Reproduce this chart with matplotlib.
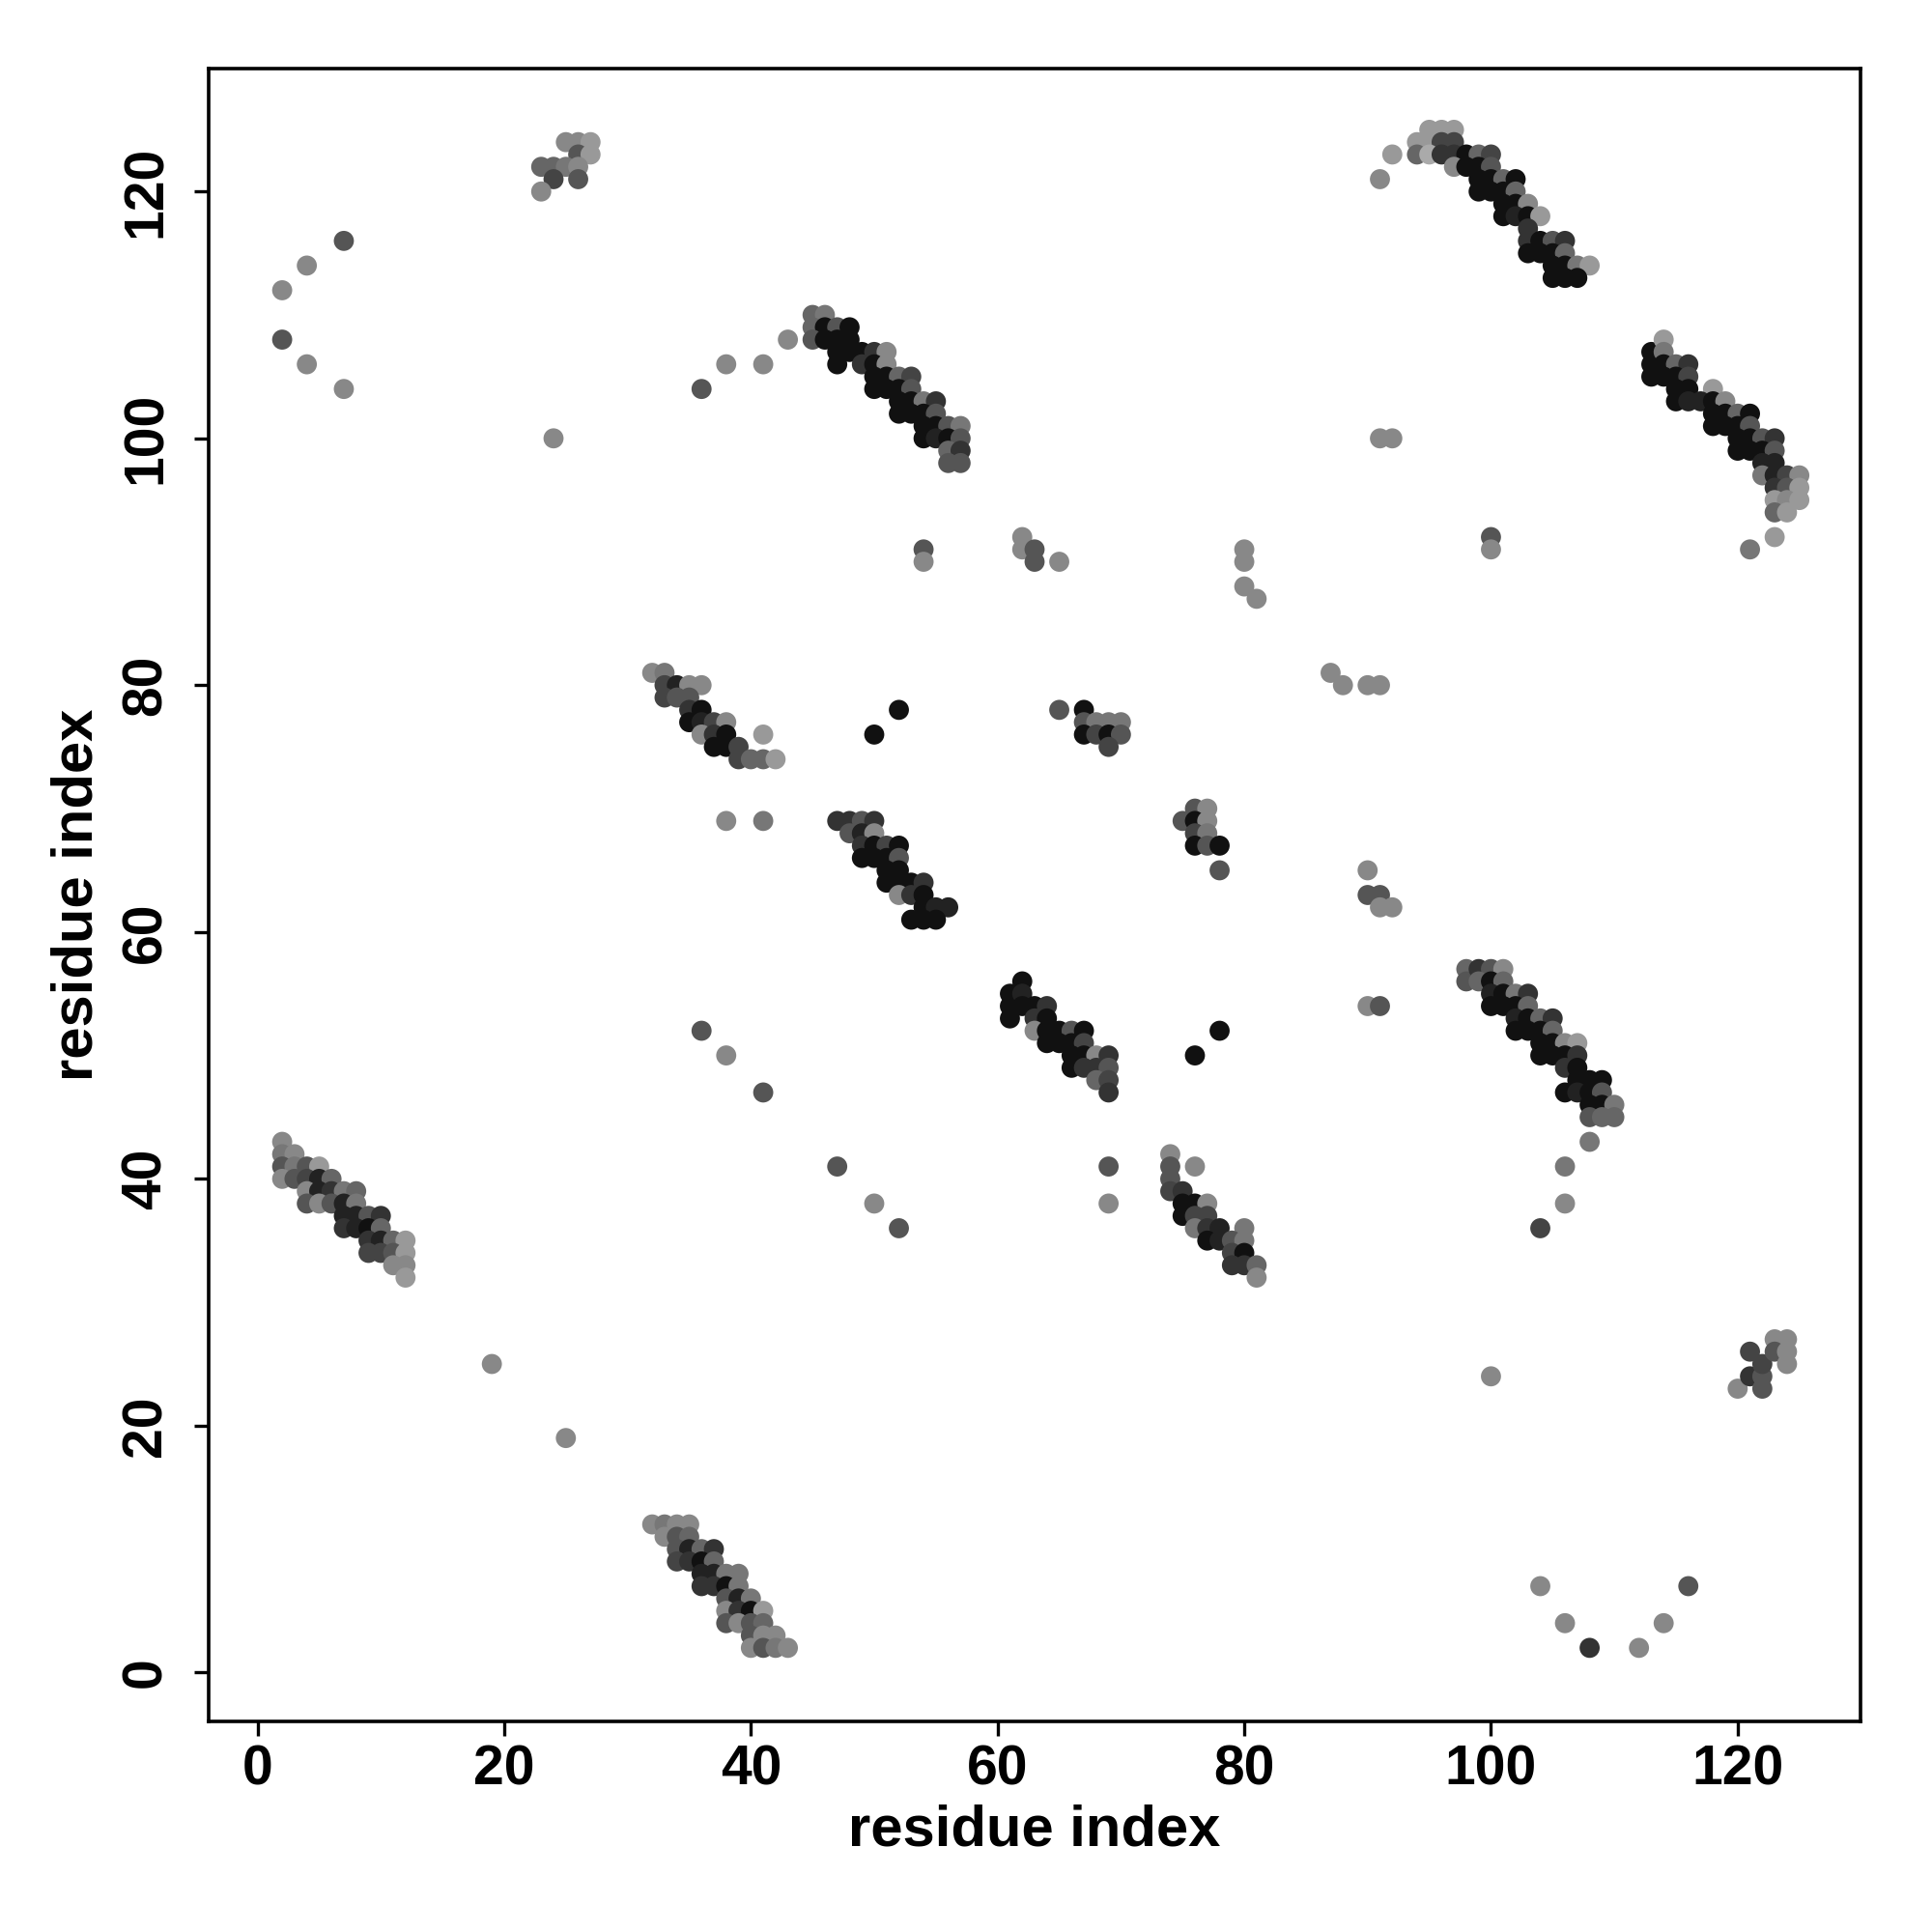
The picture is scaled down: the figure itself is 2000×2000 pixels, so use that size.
import matplotlib
matplotlib.use("Agg")
import matplotlib.pyplot as plt
import numpy as np

# Contacts: (residue i, residue j, grey level 1=darkest .. 10=lightest)
band_a = [(43,108,8),(45,110,6),(46,110,7),
          (45,109,6),(46,109,1),(47,109,5),(48,109,1),
          (45,108,5),(46,108,1),(47,108,1),(48,108,1),
          (47,107,1),(48,107,1),(49,107,1),(50,107,3),(51,107,8),
          (47,106,1),(49,106,3),(50,106,1),(51,106,8),
          (50,105,1),(51,105,1),(52,105,6),(53,105,4),
          (50,104,1),(51,104,1),(52,104,1),(53,104,5),
          (52,103,1),(53,103,1),(54,103,7),(55,103,3),
          (52,102,1),(53,102,1),(54,102,1),(55,102,5),
          (54,101,1),(55,101,1),(56,101,5),(57,101,7),
          (54,100,1),(55,100,2),(56,100,1),(57,100,5),
          (56,99,6),(57,99,3),(56,98,5),(57,98,5)]
band_b = [(91,121,8),(92,123,9),
          (95,125,9),(96,125,9),(97,125,9),
          (94,124,9),(95,124,9),(96,124,4),(97,124,4),
          (94,123,6),(95,123,10),(96,123,3),(97,123,3),(98,123,1),(99,123,6),(100,123,4),
          (97,122,8),(98,122,1),(99,122,1),(100,122,5),
          (99,121,1),(100,121,1),(101,121,6),(102,121,1),
          (99,120,1),(100,120,1),(101,120,1),(102,120,6),
          (101,119,1),(102,119,1),(103,119,8),
          (101,118,1),(102,118,2),(103,118,1),(104,118,9),
          (103,117,3),
          (103,116,3),(104,116,1),(105,116,5),(106,116,3),
          (103,115,1),(104,115,1),(105,115,1),(106,115,6),
          (105,114,1),(106,114,1),(107,114,7),(108,114,9),
          (105,113,1),(106,113,1),(107,113,1)]
band_c = [(113,107,1),(113,106,1),(113,105,1),
          (114,108,9),(114,107,7),
          (114,106,1),(115,106,6),(116,106,3),
          (114,105,1),(115,105,1),(116,105,4),
          (115,104,1),(116,104,1),(118,104,9),
          (115,103,1),(116,103,2),(117,103,2),(118,103,1),(119,103,8),
          (118,102,1),(119,102,1),(120,102,6),(121,102,1),
          (118,101,1),(119,101,1),(120,101,1),(121,101,5),
          (120,100,1),(121,100,1),(122,100,5),(123,100,3),
          (120,99,1),(121,99,1),(122,99,1),(123,99,5),
          (122,98,2),(123,98,2),
          (122,97,7),(123,97,2),(124,97,4),(125,97,8),
          (123,96,3),(124,96,5),(125,96,9),
          (123,95,9),(124,95,8),(125,95,9),
          (123,94,6),(124,94,9),
          (123,92,9),(121,91,7)]
band_d = [(32,81,8),(33,81,7),
          (33,80,4),(34,80,2),(35,80,8),(36,80,8),
          (33,79,4),(34,79,5),(35,79,5),
          (35,78,3),(36,78,1),
          (35,77,1),(36,77,2),(37,77,4),(38,77,8),
          (36,76,8),(37,76,3),(38,76,1),(41,76,9),
          (37,75,1),(38,75,1),(39,75,4),
          (39,74,4),(40,74,6),(41,74,6),(42,74,9)]
band_e = [(47,69,3),(48,69,3),(49,69,5),(50,69,3),
          (48,68,5),(49,68,2),(50,68,8),
          (49,67,3),(50,67,1),(51,67,4),(52,67,1),
          (49,66,1),(50,66,1),(51,66,1),(52,66,5),
          (51,65,1),(52,65,1),
          (51,64,1),(52,64,1),(53,64,1),(54,64,3),
          (52,63,8),(53,63,3),(54,63,1),
          (54,62,1),(55,62,2),(56,62,2),
          (53,61,1),(54,61,1),(55,61,1)]
band_f = [(65,78,5),(67,78,1),(67,77,5),(68,77,7),(69,77,7),(70,77,7),
          (67,76,1),(68,76,4),(69,76,1),(70,76,5),(69,75,4)]
band_g = [(76,70,5),(77,70,8),(75,69,5),(76,69,1),(77,69,8),(76,68,4),
          (77,68,7),(76,67,1),(77,67,5),(78,67,1),(78,65,5)]
band_h = [(98,57,6),(98,56,5),
          (99,57,3),(100,57,5),(101,57,8),
          (99,56,6),(100,56,1),(101,56,6),
          (100,55,2),(101,55,1),(102,55,7),(103,55,3),
          (100,54,1),(101,54,1),(102,54,1),(103,54,6),
          (102,53,2),(103,53,1),(104,53,6),(105,53,3),
          (102,52,1),(103,52,1),(104,52,1),(105,52,6),
          (104,51,1),(105,51,1),(106,51,8),(107,51,9),
          (104,50,1),(105,50,1),(106,50,1),(107,50,3),
          (106,49,3),(107,49,1),
          (107,48,1),(108,48,1),(109,48,1),
          (106,47,1),(107,47,2),(108,47,1),(109,47,5),
          (108,46,1),(109,46,1),(110,46,7),
          (108,45,5),(109,45,6),(110,45,6),
          (108,43,7),(106,41,7),(106,38,8),(104,36,4)]
band_i = [(61,55,1),(61,54,1),(61,53,1),
          (62,56,1),(62,55,2),(62,54,1),
          (63,54,1),(64,54,3),
          (63,53,3),(64,53,1),
          (63,52,8),(64,52,1),(65,52,1),(66,52,5),(67,52,1),
          (64,51,1),(65,51,1),(66,51,1),(67,51,4),
          (66,50,1),(67,50,1),(68,50,8),(69,50,3),
          (66,49,1),(67,49,3),(68,49,3),(69,49,5),
          (68,48,6),(69,48,4),(69,47,3)]
band_j = [(2,43,8),(2,42,7),(3,42,8),
          (2,41,5),(3,41,7),(4,41,5),(5,41,9),
          (2,40,8),(3,40,5),(4,40,4),(5,40,2),(6,40,6),
          (4,39,8),(5,39,2),(6,39,3),(7,39,7),(8,39,6),
          (4,38,5),(5,38,8),(6,38,5),(7,38,2),(8,38,7),
          (7,37,2),(8,37,2),(9,37,5),(10,37,3),
          (7,36,3),(8,36,2),(9,36,1),(10,36,6),
          (9,35,3),(10,35,2),(11,35,6),(12,35,9),
          (9,34,4),(10,34,4),(11,34,5),(12,34,9),
          (11,33,8),(12,33,8),(12,32,9)]
band_k = [(74,42,8),(74,41,5),(74,40,5),(74,39,4),(76,41,8),
          (75,39,3),
          (75,38,1),(76,38,1),(77,38,8),
          (75,37,1),(76,37,4),(77,37,4),
          (76,36,7),(77,36,3),(78,36,2),(80,36,7),
          (77,35,1),(78,35,2),(79,35,5),(80,35,7),
          (79,34,4),(80,34,1),
          (79,33,3),(80,33,3),(81,33,6),(81,32,8)]
band_l = [(32,12,8),(33,12,7),(34,12,8),(35,12,8),
          (33,11,8),(34,11,5),(35,11,6),
          (34,10,5),(35,10,2),(36,10,6),(37,10,3),
          (34,9,4),(35,9,3),(36,9,1),(37,9,6),
          (36,8,2),(37,8,2),(38,8,7),(39,8,7),
          (36,7,3),(37,7,3),(38,7,1),(39,7,7),
          (38,6,5),(39,6,2),(40,6,7),
          (38,5,8),(39,5,3),(40,5,1),(41,5,9),
          (38,4,5),(39,4,8),(40,4,5),(41,4,6),
          (40,3,5),(41,3,8),(42,3,8),
          (40,2,8),(41,2,5),(42,2,7),(43,2,8)]
band_m = [(120,23,8),(121,24,3),(121,26,4),(122,24,5),(122,23,5),(122,25,4),
          (123,27,8),(124,27,8),(123,26,5),(124,26,8),(124,25,8)]
band_n = [(25,124,8),(26,124,8),(27,124,9),(26,123,5),(27,123,9),(23,122,6),
          (24,122,6),(25,122,7),(26,122,8),(24,121,4),(26,121,5),(23,120,8)]
singles = [(2,112,8),(4,114,8),(7,116,5),(2,108,5),(4,106,8),(7,104,8),(24,100,8),
           (36,104,5),(38,106,8),(41,106,8),
           (54,91,5),(54,90,8),(62,92,8),(62,91,8),(63,91,5),(63,90,5),(65,90,8),
           (80,91,8),(80,90,8),(80,88,8),(81,87,8),(91,100,8),(92,100,8),
           (100,92,5),(100,91,8),(87,81,8),(88,80,8),(90,80,8),(91,80,8),
           (90,65,8),(90,63,5),(91,63,5),(91,62,8),(92,62,8),(90,54,8),(91,54,5),
           (50,76,1),(52,78,1),(38,69,8),(41,69,7),
           (76,50,1),(78,52,1),(69,41,5),(69,38,8),
           (36,52,5),(38,50,8),(41,47,5),(47,41,5),(50,38,8),(52,36,5),
           (19,25,8),(25,19,8),(100,24,8),
           (104,7,8),(106,4,8),(108,2,3),(112,2,8),(114,4,8),(116,7,5)]

x_ticks = [0, 20, 40, 60, 80, 100, 120]
y_ticks = [0, 20, 40, 60, 80, 100, 120]
x_label = "residue index"
y_label = "residue index"

groups = [singles, band_a, band_b, band_c, band_d, band_e, band_f, band_g,
          band_h, band_i, band_j, band_k, band_l, band_m, band_n]
pts = np.array([p for g in groups for p in g], dtype=float)
xs, ys, lv = pts[:, 0], pts[:, 1], pts[:, 2]
colors = [(v * 17 / 255,) * 3 for v in lv]

plt.rcParams['font.family'] = ['Liberation Sans', 'DejaVu Sans']
plt.rcParams['font.weight'] = 'bold'

fig = plt.figure(figsize=(10, 10), dpi=200)
ax = fig.add_axes([0.108, 0.109, 0.855, 0.8555])
ax.scatter(xs, ys, s=56, c=colors, edgecolors='none', zorder=3)

ax.set_xlim(-3.96, 129.96)
ax.set_ylim(-3.96, 129.96)
ax.set_xticks(x_ticks)
ax.set_yticks(y_ticks)
ax.set_xticklabels([str(t) for t in x_ticks], fontsize=20.5, fontweight='bold')
ax.set_yticklabels([str(t) for t in y_ticks], fontsize=20.5, fontweight='bold',
                   rotation=90, va='center')
ax.tick_params(axis='both', direction='out', length=5.5, width=1.2, pad=3)
ax.tick_params(axis='y', pad=8)
for sp in ax.spines.values():
    sp.set_linewidth(1.3)
ax.set_xlabel(x_label, fontsize=21.5, fontweight='bold', labelpad=3)
ax.set_ylabel(y_label, fontsize=21.5, fontweight='bold', labelpad=6)

fig.savefig("out.png", dpi=200, facecolor='white')
